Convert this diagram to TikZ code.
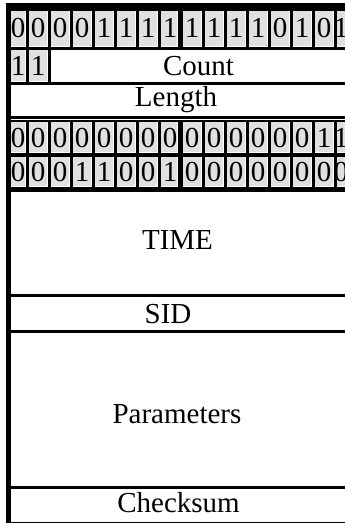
\documentclass[tikz,border=0pt]{standalone}
\usepackage{fontspec}
\setmainfont{Liberation Serif}
\definecolor{cellgray}{RGB}{224,224,224}
\tikzset{
  bitcell/.style={fill=cellgray},
  gapline/.style={fill=white},
  fieldtext/.style={font=\fontsize{29}{29}\selectfont, anchor=base, inner sep=0pt},
}
% One row of 16 bit cells: #1 top, #2 bottom, #3 baseline, #4 name prefix, #5 bits
\newcommand\bitrow[5]{%
  \foreach \b [count=\k from 0] in {#5} {
    \pgfmathsetmacro\cl{\k==0 ? 11 : 7+22*\k}
    \pgfmathsetmacro\cr{\k==7 ? 177 : 25+22*\k}
    \pgfmathsetmacro\cc{\k==0 ? 18 : (\k==15 ? 341 : 16+22*\k)}
    \fill[gapline] (\cl,#1) rectangle (\cr+1,#2);
    \fill[bitcell] (\cl,#1) rectangle (\cr,#2-1);
    \node[fieldtext] (#4\k) at (\cc,#3) {\b};
  }%
}
\begin{document}
\begin{tikzpicture}[x=1pt,y=-1pt]
\useasboundingbox (0,0) rectangle (345,523);
\clip (0,0) rectangle (345,523);
\fill[white] (0,0) rectangle (345,523);
% black frame behind all fields
\fill[black] (6,3) rectangle (345,523);

% header word: sync bits
\bitrow{11}{47}{37}{hdr}{0,0,0,0,1,1,1,1,1,1,1,1,0,1,0,1}

% two bits + Count
\foreach \b [count=\k from 0] in {1,1} {
  \pgfmathsetmacro\cl{\k==0 ? 11 : 7+22*\k}
  \pgfmathsetmacro\cr{25+22*\k}
  \pgfmathsetmacro\cc{\k==0 ? 18 : 16+22*\k}
  \fill[gapline] (\cl,50) rectangle (\cr+1,82);
  \fill[bitcell] (\cl,50) rectangle (\cr,81);
  \node[fieldtext] (cnt\k) at (\cc,75) {\b};
}
\fill[white] (51,50) rectangle (345,82);
\node[fieldtext] (count) at (198.5,75) {Count};

% Length
\fill[white] (11,85) rectangle (345,116);
\node[fieldtext] (length) at (176,106) {Length};

% thin white gap in the double rule
\fill[white] (11,118.5) rectangle (345,120);

% two constant words
\bitrow{122}{153}{147}{wa}{0,0,0,0,0,0,0,0,0,0,0,0,0,0,1,1}
\bitrow{157}{187}{181.5}{wb}{0,0,0,1,1,0,0,1,0,0,0,0,0,0,0,0}

% TIME
\fill[white] (11,192) rectangle (345,294);
\node[fieldtext] (time) at (177.5,249) {TIME};

% SID
\fill[white] (11,297) rectangle (345,330);
\node[fieldtext] (sid) at (168,323) {SID};

% Parameters
\fill[white] (11,333) rectangle (345,485.5);
\node[fieldtext] (params) at (177,423) {Parameters};

% Checksum
\fill[white] (11,488.5) rectangle (345,521.5);
\node[fieldtext] (checksum) at (178.5,512.5) {Checksum};
\end{tikzpicture}
\end{document}
